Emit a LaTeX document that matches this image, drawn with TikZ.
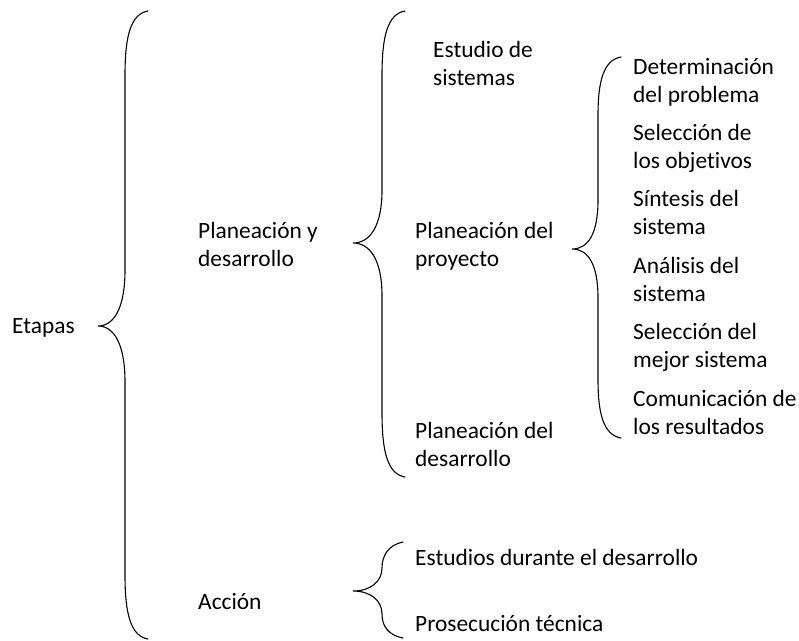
\documentclass[tikz,border=0pt]{standalone}
\usepackage{fontspec}
\setmainfont{Carlito}[Ligatures=NoCommon]
\begin{document}
\begin{tikzpicture}[
            x=1pt, y=-1pt,
            every node/.style={anchor=base west, align=left, inner sep=0pt,
                font=\fontsize{23.4}{28}\selectfont},
            brace line/.style={draw, line width=1.1pt, line cap=round}
        ]
        \useasboundingbox (0,0) rectangle (799,640);

        % first level
        \node (etapas) at (12,333) {Etapas};

        % second level (base = last line)
        \node (planea) at (198,266) {Planeación y\\desarrollo};
        \node (accion) at (198,609) {Acción};

        % third level
        \node (estudio) at (433,85) {Estudio de\\sistemas};
        \node (proyecto) at (415,266) {Planeación del\\proyecto};
        \node (desarr) at (415,466) {Planeación del\\desarrollo};
        \node (durante) at (415,565) {Estudios durante el desarrollo};
        \node (prosec) at (415,631) {Prosecución técnica};

        % fourth level
        \node (det) at (633,102) {Determinación\\del problema};
        \node (obj) at (633,168) {Selección de\\los objetivos};
        \node (sint) at (633,234) {Síntesis del\\sistema};
        \node (anal) at (633,301) {Análisis del\\sistema};
        \node (mejor) at (633,367) {Selección del\\mejor sistema};
        \node (comun) at (633,434) {Comunicación de\\los resultados};

        % braces
        \path[brace line] (148,11) .. controls (131,14) and (125,35) .. (125,75)
            -- (125,270) .. controls (125,308) and (114,326) .. (98,326)
            .. controls (114,326) and (125,344) .. (125,382)
            -- (125,575) .. controls (125,615) and (131,636) .. (148,639);
        \path[brace line] (405,11) .. controls (388,14) and (382,35) .. (382,75)
            -- (382,190) .. controls (382,226) and (370,243) .. (353,243)
            .. controls (370,243) and (382,260) .. (382,296)
            -- (382,413) .. controls (382,453) and (388,474) .. (405,477);
        \path[brace line] (621,57) .. controls (604,60) and (598,80) .. (598,115)
            -- (598,200) .. controls (598,234) and (588,249) .. (572,249)
            .. controls (588,249) and (598,264) .. (598,298)
            -- (598,380) .. controls (598,415) and (604,435) .. (621,438);
        \path[brace line] (403,542) .. controls (388,545) and (382,556) .. (382,568)
            .. controls (382,582) and (370,591) .. (353,591)
            .. controls (370,591) and (382,600) .. (382,614)
            .. controls (382,626) and (388,635) .. (403,638);

        \end{tikzpicture}
\end{document}
